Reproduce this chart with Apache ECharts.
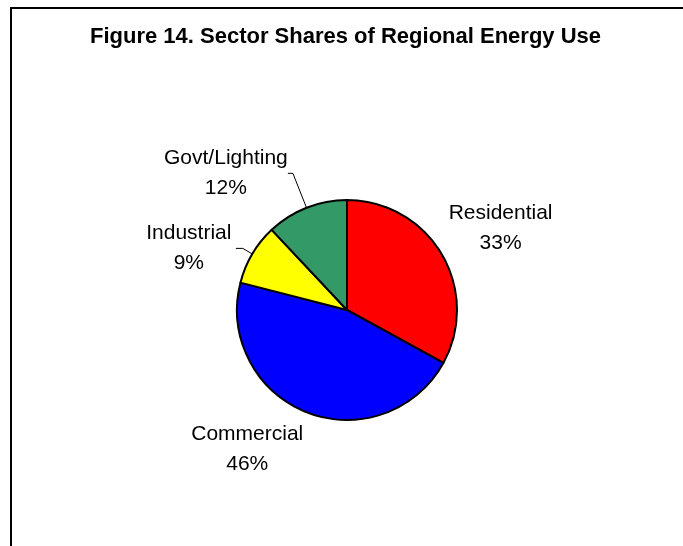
<!DOCTYPE html>
<html>
<head>
<meta charset="utf-8">
<script src="https://cdn.jsdelivr.net/npm/echarts@6/dist/echarts.min.js"></script>
<style>
  html, body { margin: 0; padding: 0; background: #fff; overflow: hidden; }
  #frame { position: absolute; left: 10px; top: 7px; width: 720px; height: 600px;
           border-left: 2px solid #000; border-top: 2px solid #000; }
  #chart { position: absolute; left: 0; top: 0; width: 683px; height: 546px; }
</style>
</head>
<body>
<div id="frame"></div>
<div id="chart"></div>
<script>
// ---- data ----
const titleText = 'Figure 14. Sector Shares of Regional Energy Use';
const categories = ['Residential', 'Commercial', 'Industrial', 'Govt/Lighting'];
const shares = [33, 46, 9, 12];

// ---- styling / label placement (not data) ----
const sliceColors = ['#FF0000', '#0000FF', '#FFFF00', '#339966'];
const labelFont = '"Liberation Sans", Arial, sans-serif';
const labelSize = 21;
const labelPlace = [
  { line: false, length: 51, length2: -42, dist: 5 },
  { line: false, length: 40, length2: -17, dist: 5 },
  { line: true,  length: 11, length2: 7,   dist: 4 },
  { line: true,  length: 37, length2: 5,   dist: 0 }
];

const ctx = document.createElement('canvas').getContext('2d');
ctx.font = labelSize + 'px ' + labelFont;
function textW(s) { return Math.ceil(ctx.measureText(s).width); }
const total = shares.reduce((a, b) => a + b, 0);

const data = categories.map((name, i) => {
  const pct = Math.round(shares[i] / total * 100) + '%';
  const w = Math.max(textW(name), textW(pct));
  const p = labelPlace[i];
  return {
    name: name,
    value: shares[i],
    itemStyle: { color: sliceColors[i] },
    label: {
      distanceToLabelLine: p.dist,
      rich: { t: { width: w, align: 'center', lineHeight: 30, fontSize: labelSize,
                   fontFamily: labelFont, color: '#000' } }
    },
    labelLine: { show: p.line, length: p.length, length2: p.length2,
                 lineStyle: { color: '#000', width: 1 } }
  };
});

const chart = echarts.init(document.getElementById('chart'), null, { renderer: 'canvas' });
chart.setOption({
  animation: false,
  title: {
    text: titleText,
    left: 90,
    top: 26,
    padding: 0,
    textStyle: { fontFamily: labelFont, fontWeight: 'bold', fontSize: 22, color: '#000', lineHeight: 22 }
  },
  series: [{
    type: 'pie',
    center: [347, 310],
    radius: 110,
    startAngle: 90,
    clockwise: true,
    avoidLabelOverlap: false,
    percentPrecision: 0,
    itemStyle: { borderColor: '#000', borderWidth: 2 },
    label: {
      show: true,
      position: 'outside',
      formatter: function (p) { return '{t|' + p.name + '}\n{t|' + p.percent + '%}'; }
    },
    labelLine: { minTurnAngle: 0, maxSurfaceAngle: 180 },
    emphasis: { disabled: true },
    data: data
  }]
});
</script>
</body>
</html>
